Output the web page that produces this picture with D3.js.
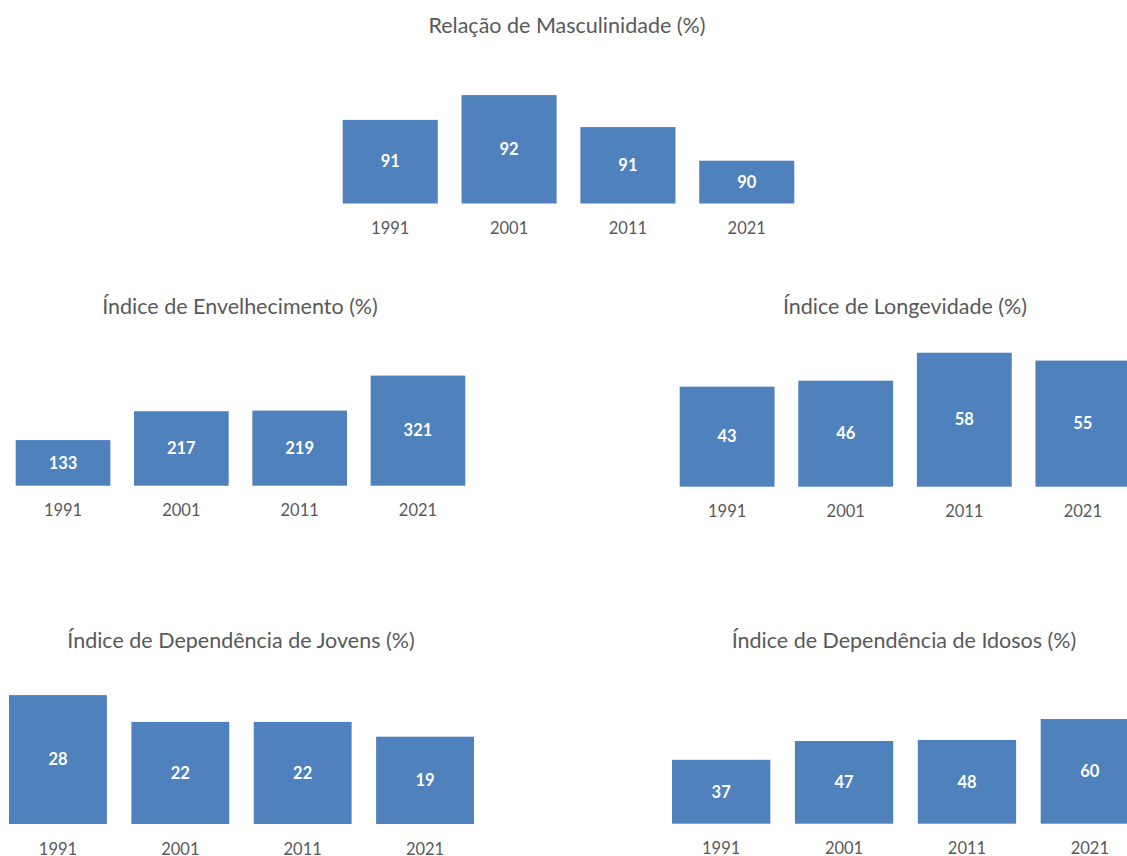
<!DOCTYPE html>
<html>
<head>
<meta charset="utf-8">
<script src="https://cdn.jsdelivr.net/npm/d3@7"></script>
<style>
  html, body { margin: 0; padding: 0; background: #ffffff; }
  svg { display: block; }
</style>
</head>
<body>
<svg id="chart" width="1127" height="856"></svg>
<script>
// ---------- data ----------
const years = ["1991", "2001", "2011", "2021"];
const titles = [
  "Relação de Masculinidade (%)",
  "Índice de Envelhecimento (%)",
  "Índice de Longevidade (%)",
  "Índice de Dependência de Jovens (%)",
  "Índice de Dependência de Idosos (%)"
];
const masculinidade = [91.09, 91.71, 90.91, 90.07];
const envelhecimento = [133, 217, 219, 321];
const longevidade = [43.3, 45.9, 58.0, 54.6];
const dependenciaJovens = [27.9, 22.1, 22.1, 18.9];
const dependenciaIdosos = [36.6, 47.4, 48.0, 60.0];
const series = [masculinidade, envelhecimento, longevidade, dependenciaJovens, dependenciaIdosos];

// ---------- layout ----------
const layout = [
  { x0: 342.7, x1: 794.3, base: 203.5, yDomain: [89, 92], yPx: 120,  titleX: 567, titleY: 33 },
  { x0: 15.7,  x1: 465.3, base: 485.7, yDomain: [0, 350], yPx: 120.05, titleX: 240, titleY: 314 },
  { x0: 679.7, x1: 1130.3, base: 486.7, yDomain: [0, 60], yPx: 138.6, titleX: 905, titleY: 314 },
  { x0: 9,     x1: 474,   base: 824,   yDomain: [0, 30], yPx: 138.6, titleX: 241, titleY: 648 },
  { x0: 672,   x1: 1139,  base: 823.7, yDomain: [0, 60], yPx: 104.7, titleX: 904, titleY: 648 }
];

const barColor = "#4F81BD";
const textColor = "#595959";
const fontFamily = "Lato, 'Open Sans', sans-serif";

const svg = d3.select("#chart");
svg.append("rect").attr("width", 1127).attr("height", 856).attr("fill", "#ffffff");

layout.forEach((L, i) => {
  const vals = series[i];
  const data = years.map((y, j) => ({ year: y, value: vals[j] }));
  const x = d3.scaleBand().domain(years).range([L.x0, L.x1]).paddingInner(0.2).paddingOuter(0);
  const y = d3.scaleLinear().domain(L.yDomain).range([L.base, L.base - L.yPx]);
  const g = svg.append("g");

  g.append("text")
    .attr("x", L.titleX).attr("y", L.titleY)
    .attr("text-anchor", "middle")
    .attr("font-family", fontFamily).attr("font-size", 21.5)
    .attr("fill", textColor)
    .text(titles[i]);

  g.selectAll("rect.bar").data(data).join("rect")
    .attr("class", "bar")
    .attr("x", d => x(d.year))
    .attr("width", x.bandwidth())
    .attr("y", d => y(d.value))
    .attr("height", d => y(L.yDomain[0]) - y(d.value))
    .attr("fill", barColor);

  g.selectAll("text.val").data(data).join("text")
    .attr("class", "val")
    .attr("x", d => x(d.year) + x.bandwidth() / 2)
    .attr("y", d => (y(d.value) + y(L.yDomain[0])) / 2)
    .attr("dy", "0.35em")
    .attr("text-anchor", "middle")
    .attr("font-family", fontFamily).attr("font-size", 16.5).attr("font-weight", "bold")
    .attr("fill", "#ffffff")
    .text(d => d3.format(".0f")(d.value));

  const axis = d3.axisBottom(x).tickSize(0).tickPadding(0);
  const ax = g.append("g").attr("transform", `translate(0,${L.base})`).call(axis);
  ax.select(".domain").remove();
  ax.selectAll("text")
    .attr("y", 30.5).attr("dy", null)
    .attr("font-family", fontFamily).attr("font-size", 16.5)
    .attr("fill", textColor);
});
</script>
</body>
</html>
